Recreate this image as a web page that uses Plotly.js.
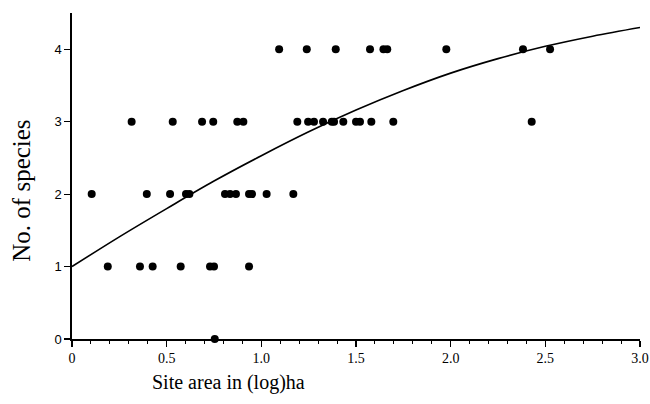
<!DOCTYPE html>
<html>
<head>
<meta charset="utf-8">
<script src="https://cdn.plot.ly/plotly-3.0.1.min.js"></script>
<style>html,body{margin:0;padding:0;background:#fff;}#chart{width:650px;height:404px;}</style>
</head>
<body>
<div id="chart"></div>
<script>
// Observed sites: site area (log ha) and number of species
var siteArea = [
  1.094, 1.240, 1.393, 1.574, 1.645, 1.665, 1.977, 2.382, 2.525,
  0.315, 0.532, 0.687, 0.746, 0.873, 0.905, 1.190, 1.247, 1.278, 1.326, 1.372, 1.384, 1.433, 1.500, 1.521, 1.581, 1.697, 2.428,
  0.104, 0.395, 0.518, 0.602, 0.620, 0.808, 0.835, 0.866, 0.935, 0.951, 1.028, 1.169,
  0.189, 0.359, 0.426, 0.574, 0.729, 0.750, 0.935,
  0.754
];
var species = [
  4, 4, 4, 4, 4, 4, 4, 4, 4,
  3, 3, 3, 3, 3, 3, 3, 3, 3, 3, 3, 3, 3, 3, 3, 3, 3, 3,
  2, 2, 2, 2, 2, 2, 2, 2, 2, 2, 2, 2,
  1, 1, 1, 1, 1, 1, 1,
  0
];
// Fitted curve
var curveX = [0, 0.25, 0.5, 0.75, 1.0, 1.25, 1.5, 1.75, 2.0, 2.25, 2.5, 2.75, 3.0];
var curveY = [1.0, 1.41, 1.80, 2.18, 2.53, 2.86, 3.16, 3.43, 3.67, 3.87, 4.04, 4.18, 4.30];
var xTickVals = [0, 0.5, 1.0, 1.5, 2.0, 2.5, 3.0];
var xTickText = ['0', '0.5', '1.0', '1.5', '2.0', '2.5', '3.0'];
var yTickVals = [0, 1, 2, 3, 4];
var yTickText = ['0', '1', '2', '3', '4'];

var traces = [
  {x: curveX, y: curveY, type: 'scatter', mode: 'lines', line: {color: '#000', width: 1.6, shape: 'spline', smoothing: 1}, hoverinfo: 'skip'},
  {x: siteArea, y: species, type: 'scatter', mode: 'markers', cliponaxis: false,
   marker: {color: '#000', size: 8, line: {width: 0}}}
];
var layout = {
  width: 650, height: 404,
  margin: {l: 72, r: 10, t: 13, b: 65},
  paper_bgcolor: '#fff', plot_bgcolor: '#fff',
  showlegend: false,
  xaxis: {
    range: [0, 3], showgrid: false, zeroline: false,
    showline: true, linecolor: '#000', linewidth: 1.6,
    ticks: 'outside', ticklen: 6, tickwidth: 1.2, tickcolor: '#000',
    tickvals: xTickVals, ticktext: xTickText,
    minor: {dtick: 0.1, ticks: 'outside', ticklen: 3, tickwidth: 1, tickcolor: '#000', showgrid: false},
    tickfont: {family: 'Liberation Serif, Times New Roman, serif', size: 14, color: '#000'}
  },
  yaxis: {
    range: [0, 4.5], showgrid: false, zeroline: false,
    showline: true, linecolor: '#000', linewidth: 1.6,
    ticks: 'outside', ticklen: 6, tickwidth: 1.2, tickcolor: '#000',
    tickvals: yTickVals, ticktext: yTickText,
    tickfont: {family: 'Liberation Sans, Arial, sans-serif', size: 13, color: '#000'}
  },
  annotations: [
    {text: 'Site area in (log)ha', xref: 'paper', yref: 'paper', x: (228 - 72) / 568, y: -(383 - 339.5) / 326.5,
     xanchor: 'center', yanchor: 'middle', showarrow: false,
     font: {family: 'Liberation Serif, Times New Roman, serif', size: 20, color: '#000'}},
    {text: 'No. of species', xref: 'paper', yref: 'paper', x: (22 - 72) / 568, y: (339.5 - 191) / 326.5,
     xanchor: 'center', yanchor: 'middle', textangle: -90, showarrow: false,
     font: {family: 'Liberation Serif, Times New Roman, serif', size: 25, color: '#000'}}
  ]
};
Plotly.newPlot('chart', traces, layout, {staticPlot: true, displayModeBar: false});
</script>
</body>
</html>
